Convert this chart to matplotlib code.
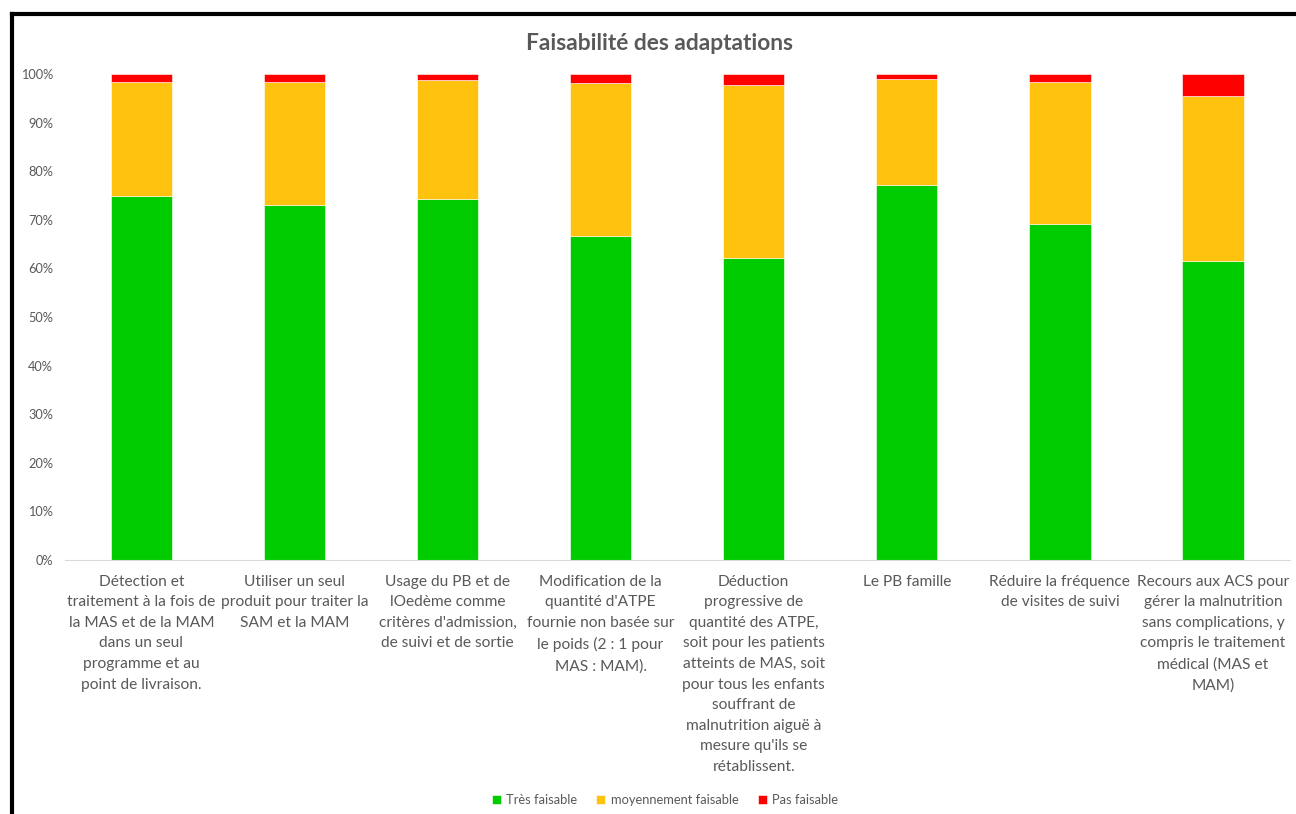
import matplotlib
matplotlib.use("Agg")
import matplotlib.pyplot as plt
from matplotlib.lines import Line2D
from matplotlib.ticker import PercentFormatter
import numpy as np

plt.rcParams['font.family'] = ['Lato', 'DejaVu Sans']

categories = [
    "Détection et\ntraitement à la fois de\nla MAS et de la MAM\ndans un seul\nprogramme et au\npoint de livraison.",
    "Utiliser un seul\nproduit pour traiter la\nSAM et la MAM",
    "Usage du PB et de\nlOedème comme\ncritères d'admission,\nde suivi et de sortie",
    "Modification de la\nquantité d'ATPE\nfournie non basée sur\nle poids (2 : 1 pour\nMAS : MAM).",
    "Déduction\nprogressive de\nquantité des ATPE,\nsoit pour les patients\natteints de MAS, soit\npour tous les enfants\nsouffrant de\nmalnutrition aiguë à\nmesure qu'ils se\nrétablissent.",
    "Le PB famille",
    "Réduire la fréquence\nde visites de suivi",
    "Recours aux ACS pour\ngérer la malnutrition\nsans complications, y\ncompris le traitement\nmédical (MAS et\nMAM)",
]
tres_faisable = [75.0, 73.0, 74.3, 66.7, 62.1, 77.2, 69.1, 61.5]
moyennement = [23.4, 25.4, 24.5, 31.5, 35.7, 21.8, 29.3, 33.9]
pas_faisable = [1.6, 1.6, 1.2, 1.8, 2.2, 1.0, 1.6, 4.6]

series = ["Très faisable", "moyennement faisable", "Pas faisable"]
colors = ["#00CC00", "#FFC20E", "#FF0000"]
text_color = "#595959"

fig = plt.figure(figsize=(12.96, 8.14), dpi=100)
ax = fig.add_axes([0.050, 0.312, 0.945, 0.597])

x = np.arange(len(categories))
bottom = np.zeros(len(categories))
for name, vals, col in zip(series, [tres_faisable, moyennement, pas_faisable], colors):
    vals = np.array(vals) / 100.0
    ax.bar(x, vals, width=0.4, bottom=bottom, color=col, label=name,
           edgecolor="white", linewidth=0.4)
    bottom += vals

ax.set_xlim(-0.5, len(categories) - 0.5)
ax.set_ylim(0, 1)
ax.set_yticks(np.arange(0, 1.01, 0.1))
ax.yaxis.set_major_formatter(PercentFormatter(1.0, decimals=0))
ax.set_xticks(x)
ax.set_xticklabels(categories, fontsize=11.2, color=text_color, linespacing=1.6)
ax.tick_params(axis="y", length=0, labelsize=9.2, labelcolor=text_color, pad=8.5)
ax.tick_params(axis="x", length=0, pad=10.5)
for side in ["top", "right", "left"]:
    ax.spines[side].set_visible(False)
ax.spines["bottom"].set_color("#D9D9D9")

fig.text(0.509, 0.947, "Faisabilité des adaptations", ha="center", va="center",
         fontsize=16.4, fontweight="bold", color=text_color)

ax.legend(loc="center", bbox_to_anchor=(0.513, 0.0175), bbox_transform=fig.transFigure,
          ncol=3, frameon=False, fontsize=9.3, handlelength=0.7, handleheight=0.7,
          handletextpad=0.4, columnspacing=1.5, labelcolor=text_color)

# black frame of the screenshot
fig.add_artist(Line2D([12/1296, 1.0], [1 - 14/814, 1 - 14/814], transform=fig.transFigure,
                      color="black", linewidth=3))
fig.add_artist(Line2D([12/1296, 12/1296], [0, 1 - 14/814], transform=fig.transFigure,
                      color="black", linewidth=3))

fig.savefig("out.png", dpi=100, facecolor="white")
